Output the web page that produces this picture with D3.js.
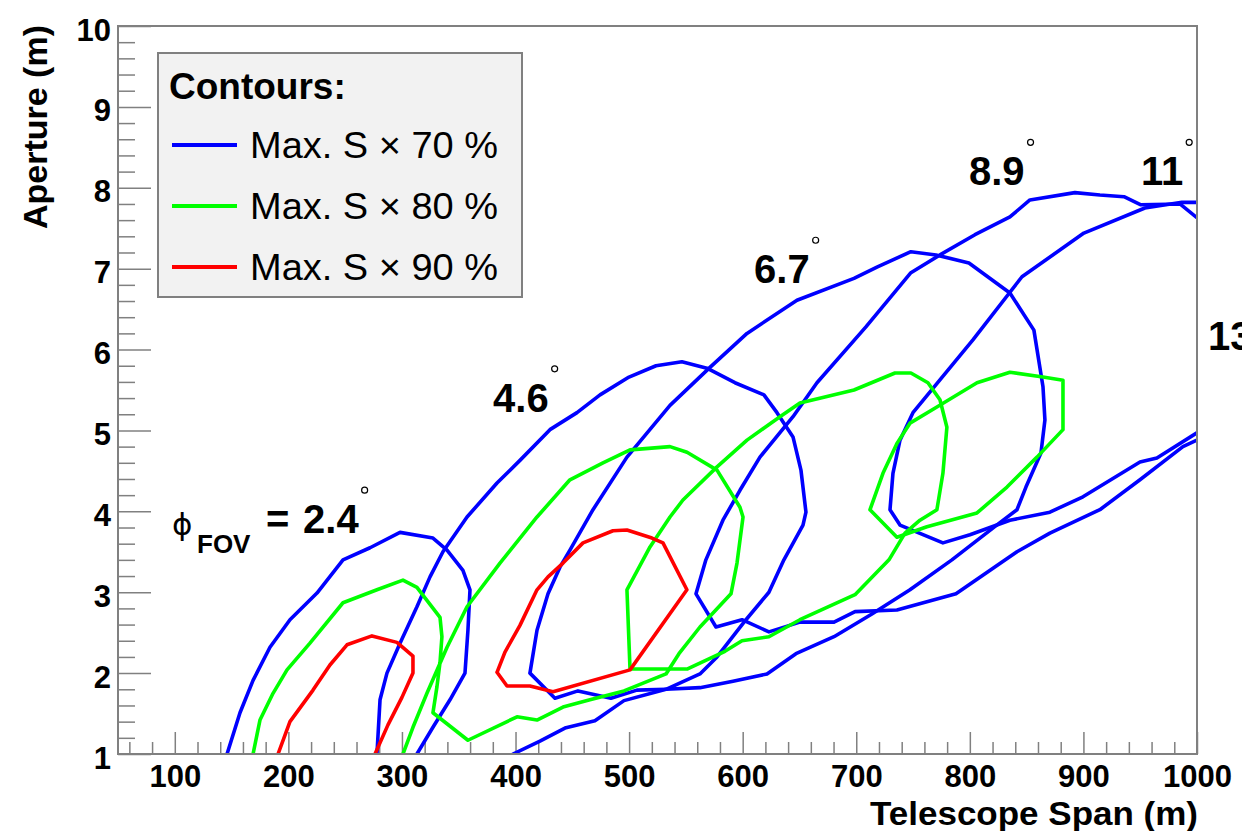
<!DOCTYPE html>
<html>
<head>
<meta charset="utf-8">
<script src="https://cdn.jsdelivr.net/npm/d3@7"></script>
<style>
  body { margin: 0; background: #fff; }
  svg { display: block; }
</style>
</head>
<body>
<svg id="chart" width="1242" height="831"></svg>
<script>
// contour lines, [telescope span (m), aperture (m)]
const blue24 = [[146.0,1.00],[157.4,1.51],[168.9,1.91],[183.8,2.32],[201.4,2.66],[225.2,2.99],[248.1,3.40],[271.9,3.55],[298.3,3.74],[327.3,3.67],[339.7,3.52],[353.7,3.27],[359.9,3.03],[358.1,2.53],[355.5,2.00],[342.3,1.67],[327.3,1.33],[313.2,1.00]];
const blue46 = [[278.0,1.00],[280.7,1.67],[286.8,2.00],[298.3,2.37],[313.2,2.82],[324.7,3.19],[336.1,3.50],[357.3,3.93],[383.7,4.35],[403.9,4.63],[430.3,5.01],[454.1,5.22],[474.4,5.44],[499.9,5.66],[523.7,5.80],[546.5,5.85],[568.5,5.77],[593.2,5.59],[618.7,5.44],[630.2,5.22],[644.3,4.92],[651.3,4.51],[655.7,3.99],[653.1,3.83],[636.3,3.40],[623.1,3.00],[602.9,2.66],[577.4,2.20],[562.4,1.99],[532.5,1.80],[495.5,1.66],[469.9,1.41],[443.5,1.32],[421.5,1.16],[397.8,1.00]];
const blue67 = [[412.7,2.00],[418.9,2.53],[428.6,2.98],[439.1,3.31],[447.9,3.52],[468.2,4.02],[498.1,4.67],[536.0,5.31],[571.2,5.78],[603.8,6.20],[647.8,6.61],[698.0,6.88],[718.2,7.02],[748.1,7.21],[770.2,7.17],[799.2,7.07],[835.3,6.70],[856.4,6.24],[864.4,5.54],[866.1,5.13],[862.6,4.72],[849.4,4.30],[841.5,4.02],[826.5,3.86],[784.2,3.40],[747.3,3.03],[713.8,2.73],[680.4,2.45],[646.9,2.24],[621.4,1.99],[591.5,1.90],[562.4,1.82],[532.5,1.80],[506.9,1.79],[484.0,1.69],[455.0,1.78],[434.7,1.69],[412.7,2.00]];
const blue89 = [[999.9,7.63],[985.0,7.80],[950.6,7.79],[935.7,7.89],[914.5,7.91],[892.5,7.94],[852.9,7.85],[835.3,7.64],[804.5,7.42],[773.7,7.17],[748.1,6.95],[708.5,6.28],[665.4,5.59],[644.3,5.17],[615.2,4.67],[597.6,4.26],[582.6,3.89],[567.6,3.40],[558.9,2.98],[576.5,2.57],[599.4,2.66],[623.1,2.51],[650.4,2.63],[680.4,2.63],[698.9,2.76],[735.8,2.78],[787.8,2.98],[841.5,3.50],[870.5,3.73],[914.5,4.02],[949.8,4.39],[987.6,4.80],[999.9,4.88]];
const blue11 = [[999.9,7.82],[986.7,7.82],[954.1,7.75],[900.4,7.44],[845.9,6.90],[802.7,6.12],[749.9,5.22],[738.5,4.88],[732.3,4.47],[729.7,4.02],[738.5,3.83],[776.3,3.61],[800.1,3.71],[835.3,3.89],[870.5,3.99],[899.6,4.18],[949.8,4.61],[964.7,4.66],[999.9,4.97]];

const green24 = [[168.9,1.00],[175.0,1.42],[186.5,1.75],[198.8,2.04],[219.0,2.37],[248.1,2.87],[278.0,3.03],[300.9,3.15],[313.2,3.06],[322.0,2.90],[333.5,2.69],[335.2,2.45],[333.5,2.13],[330.8,1.83],[327.3,1.51],[358.1,1.17],[401.3,1.46],[418.9,1.42],[441.8,1.58],[465.5,1.67],[495.5,1.78],[532.5,1.99],[543.9,2.24],[562.4,2.57],[589.7,2.98],[595.0,3.36],[600.3,3.93],[597.6,4.05],[577.4,4.51],[551.0,4.73],[536.0,4.80],[500.8,4.76],[477.0,4.60],[447.9,4.39],[418.9,3.93],[386.3,3.36],[357.3,2.82],[339.7,2.32],[322.0,1.75],[309.7,1.33],[300.9,1.00]];
const green67 = [[500.8,2.05],[551.0,2.05],[584.4,2.27],[599.4,2.40],[623.1,2.45],[650.4,2.66],[698.9,2.97],[728.8,3.40],[742.9,3.73],[756.1,3.89],[771.0,4.02],[776.3,4.47],[779.8,5.04],[773.7,5.38],[763.1,5.59],[748.1,5.71],[734.1,5.71],[698.0,5.50],[650.4,5.34],[632.8,5.17],[603.8,4.88],[577.4,4.55],[547.4,4.14],[536.0,3.93],[518.4,3.56],[498.1,3.03],[500.8,2.05]];
const green89 = [[712.1,4.02],[723.5,4.47],[735.8,4.84],[747.3,5.09],[771.0,5.29],[806.3,5.59],[835.3,5.72],[864.4,5.66],[882.0,5.62],[882.0,5.01],[859.1,4.67],[832.7,4.30],[806.3,3.98],[762.2,3.81],[735.8,3.68],[712.1,4.02]];

const red24 = [[190.9,1.00],[201.4,1.40],[221.7,1.79],[236.6,2.10],[251.6,2.35],[273.6,2.46],[295.6,2.38],[309.7,2.21],[309.7,2.00],[300.0,1.70],[287.7,1.36],[276.3,1.00]];
const red46 = [[383.7,2.01],[392.5,1.84],[412.7,1.84],[433.0,1.77],[500.8,2.04],[550.9,3.03],[529.8,3.61],[520.1,3.67],[498.1,3.77],[485.8,3.76],[459.4,3.61],[441.8,3.36],[428.6,3.19],[418.9,3.03],[403.9,2.59],[390.7,2.26],[383.7,2.01]];

const xMajor = [100, 200, 300, 400, 500, 600, 700, 800, 900, 1000];
const yMajor = [1, 2, 3, 4, 5, 6, 7, 8, 9, 10];

const legendLabels = ["Max. S \u00d7 70 %", "Max. S \u00d7 80 %", "Max. S \u00d7 90 %"];
const levelColors = ["#0000ff", "#00ff00", "#ff0000"];

// field of view labels and where they sit (data coords, text baseline start)
const fovText = ["2.4", "4.6", "6.7", "8.9", "11", "13"];
const fovAt = [[212.9, 3.73], [380.2, 5.23], [610.0, 6.82], [799.2, 8.03], [950.6, 8.03], [1009.6, 5.99]];

const FONT = "'Liberation Sans', Arial, Helvetica, sans-serif";
const frame = { left: 118, right: 1197, top: 26, bottom: 754 };

const svg = d3.select("#chart");

const x = d3.scaleLinear().domain([50, 1000]).range([frame.left, frame.right]);
const y = d3.scaleLinear().domain([1, 10]).range([frame.bottom, frame.top]);

svg.append("defs").append("clipPath").attr("id", "plotClip")
  .append("rect")
  .attr("x", frame.left).attr("y", frame.top)
  .attr("width", frame.right - frame.left).attr("height", frame.bottom - frame.top);

// ticks (ROOT style, drawn inside the frame)
const xMinor = d3.range(60, 1000, 20).filter(v => v % 100 !== 0);
const yMinor = d3.range(1.2, 10, 0.2).map(v => +v.toFixed(1)).filter(v => Math.abs(v - Math.round(v)) > 1e-6);

function styleAxis(g) {
  g.select(".domain").remove();
  g.attr("font-family", FONT).attr("font-size", 31);
  g.selectAll(".tick line").attr("stroke", "#808080").attr("stroke-width", 1.5);
  g.selectAll(".tick text").attr("fill", "#000").attr("font-weight", "bold");
}

svg.append("g").attr("transform", `translate(0,${frame.bottom})`)
  .call(d3.axisBottom(x).tickValues(xMinor).tickSize(-12).tickFormat(""))
  .call(styleAxis);

const xg = svg.append("g").attr("transform", `translate(0,${frame.bottom})`)
  .call(d3.axisBottom(x).tickValues(xMajor).tickSize(-22).tickFormat(d3.format("d")))
  .call(styleAxis);
xg.selectAll(".tick text").attr("y", 33).attr("dy", null);

svg.append("g").attr("transform", `translate(${frame.left},0)`)
  .call(d3.axisLeft(y).tickValues(yMinor).tickSize(-17).tickFormat(""))
  .call(styleAxis);

const yg = svg.append("g").attr("transform", `translate(${frame.left},0)`)
  .call(d3.axisLeft(y).tickValues(yMajor).tickSize(-33).tickPadding(7).tickFormat(d3.format("d")))
  .call(styleAxis);
yg.selectAll(".tick text").attr("dy", null).attr("y", 14);

// contours
const line = d3.line().x(d => x(d[0])).y(d => y(d[1]));
const contourSets = [
  { color: levelColors[0], paths: [blue24, blue46, blue67, blue89, blue11] },
  { color: levelColors[1], paths: [green24, green67, green89] },
  { color: levelColors[2], paths: [red24, red46] }
];

const plot = svg.append("g").attr("clip-path", "url(#plotClip)");
contourSets.forEach(set => {
  plot.append("g")
    .selectAll("path")
    .data(set.paths)
    .join("path")
    .attr("d", line)
    .attr("fill", "none")
    .attr("stroke", set.color)
    .attr("stroke-width", 3.6)
    .attr("stroke-linejoin", "round")
    .attr("stroke-linecap", "round");
});

// frame
svg.append("rect")
  .attr("x", frame.left).attr("y", frame.top)
  .attr("width", frame.right - frame.left).attr("height", frame.bottom - frame.top)
  .attr("fill", "none").attr("stroke", "#808080").attr("stroke-width", 2);

// axis titles
svg.append("text")
  .attr("x", 1198).attr("y", 825)
  .attr("text-anchor", "end")
  .attr("font-family", FONT).attr("font-weight", "bold").attr("font-size", 34)
  .attr("textLength", 328).attr("lengthAdjust", "spacingAndGlyphs")
  .text("Telescope Span (m)");

svg.append("text")
  .attr("transform", "translate(47,25) rotate(-90)")
  .attr("text-anchor", "end")
  .attr("font-family", FONT).attr("font-weight", "bold").attr("font-size", 34)
  .text("Aperture (m)");

// FOV labels
const ann = svg.append("g").attr("font-family", FONT);
fovText.forEach((t, i) => {
  const px = x(fovAt[i][0]), py = y(fovAt[i][1]);
  const txt = ann.append("text")
    .attr("x", px).attr("y", py)
    .attr("font-weight", "bold").attr("font-size", 40)
    .text(t);
  const w = txt.node().getComputedTextLength();
  ann.append("circle")
    .attr("cx", px + w + 6).attr("cy", py - 43).attr("r", 3)
    .attr("fill", "none").attr("stroke", "#000").attr("stroke-width", 1.2);
  if (i === 0) {
    ann.append("text")
      .attr("x", px - 131).attr("y", py + 2)
      .attr("font-family", "'DejaVu Sans', sans-serif").attr("font-size", 31)
      .text("\u03d5");
    ann.append("text")
      .attr("x", px - 106).attr("y", py + 20)
      .attr("font-weight", "bold").attr("font-size", 26)
      .text("FOV");
    ann.append("text")
      .attr("x", px - 37).attr("y", py)
      .attr("font-weight", "bold").attr("font-size", 40)
      .text("=");
  }
});

// legend
const lg = svg.append("g").attr("font-family", FONT);
lg.append("rect")
  .attr("x", 158).attr("y", 53).attr("width", 364).attr("height", 244)
  .attr("fill", "#f2f2f2").attr("stroke", "#808080").attr("stroke-width", 2);
lg.append("text")
  .attr("x", 169).attr("y", 99)
  .attr("font-weight", "bold").attr("font-size", 37)
  .text("Contours:");
legendLabels.forEach((lab, i) => {
  const cy = 145 + i * 61;
  lg.append("line")
    .attr("x1", 172).attr("x2", 237).attr("y1", cy).attr("y2", cy)
    .attr("stroke", levelColors[i]).attr("stroke-width", 4);
  lg.append("text")
    .attr("x", 250).attr("y", cy + 13)
    .attr("font-size", 36)
    .attr("textLength", 248).attr("lengthAdjust", "spacingAndGlyphs")
    .text(lab);
});
</script>
</body>
</html>
